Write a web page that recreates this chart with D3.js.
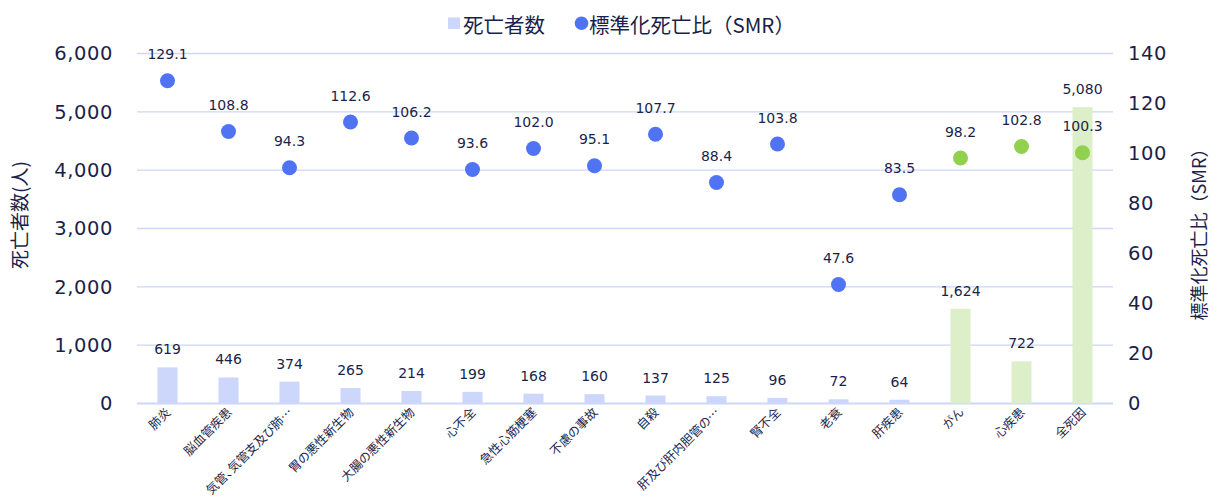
<!DOCTYPE html>
<html><head><meta charset="utf-8">
<script src="https://cdn.jsdelivr.net/npm/d3@7"></script>
<style>body{margin:0;background:#fff;font-family:"Noto Sans CJK JP","Noto Sans",sans-serif;}
.xl{font-feature-settings:"palt";}</style>
</head><body><svg id="c" width="1213" height="499"></svg>
<script>
const categories = ["肺炎","脳血管疾患","気管、気管支及び肺…","胃の悪性新生物","大腸の悪性新生物","心不全","急性心筋梗塞","不慮の事故","自殺","肝及び肝内胆管の…","腎不全","老衰","肝疾患","がん","心疾患","全死因"];
const deaths = [619,446,374,265,214,199,168,160,137,125,96,72,64,1624,722,5080];
const smr = [129.1,108.8,94.3,112.6,106.2,93.6,102.0,95.1,107.7,88.4,103.8,47.6,83.5,98.2,102.8,100.3];
const groupFlag = [0,0,0,0,0,0,0,0,0,0,0,0,0,1,1,1];
const leftTicks = [0,1000,2000,3000,4000,5000,6000];
const rightTicks = [0,20,40,60,80,100,120,140];

const svg = d3.select("#c");
const ml=137, mr=1113, plotTop=53.5, bot=403.5;
const textC="#1b1f4b", grid="#cdd7f7";
const numFont="DejaVu Sans";
const barC=["#cdd6fb","#ddefc8"], dotC=["#5073f4","#92d050"];
const x=d3.scaleBand().domain(categories).range([ml,mr]);
const yL=d3.scaleLinear().domain([0,6000]).range([bot,plotTop]);
const yR=d3.scaleLinear().domain([0,140]).range([bot,plotTop]);

svg.append("g").selectAll("line").data(leftTicks).join("line")
 .attr("x1",ml).attr("x2",mr).attr("y1",d=>yL(d)).attr("y2",d=>yL(d))
 .attr("stroke",grid).attr("stroke-width",d=>d===0?2.2:1.3);

const gl=svg.append("g").attr("transform",`translate(${ml},0)`).call(d3.axisLeft(yL).tickValues(leftTicks).tickFormat(d3.format(",")).tickSize(0).tickPadding(24));
gl.select(".domain").remove();
gl.selectAll("text").attr("font-size",19.5).attr("letter-spacing",0.6).attr("fill",textC).attr("font-family",numFont);
const gr=svg.append("g").attr("transform",`translate(${mr},0)`).call(d3.axisRight(yR).tickValues(rightTicks).tickSize(0).tickPadding(15));
gr.select(".domain").remove();
gr.selectAll("text").attr("font-size",19.5).attr("letter-spacing",0.6).attr("fill",textC).attr("font-family",numFont);

const bw=20;
svg.append("g").selectAll("rect").data(categories).join("rect")
 .attr("x",(d)=>x(d)+x.bandwidth()/2-bw/2).attr("width",bw)
 .attr("y",(d,i)=>yL(deaths[i])).attr("height",(d,i)=>bot-yL(deaths[i]))
 .attr("fill",(d,i)=>barC[groupFlag[i]]);
svg.append("g").selectAll("text").data(categories).join("text")
 .attr("x",d=>x(d)+x.bandwidth()/2).attr("y",(d,i)=>yL(deaths[i])-13)
 .attr("text-anchor","middle").attr("font-size",14).attr("fill",textC).attr("font-family",numFont)
 .text((d,i)=>d3.format(",")(deaths[i]));

svg.append("g").selectAll("circle").data(categories).join("circle")
 .attr("cx",d=>x(d)+x.bandwidth()/2).attr("cy",(d,i)=>yR(smr[i])).attr("r",7.5)
 .attr("fill",(d,i)=>dotC[groupFlag[i]]);
svg.append("g").selectAll("text").data(categories).join("text")
 .attr("x",d=>x(d)+x.bandwidth()/2).attr("y",(d,i)=>yR(smr[i])-21.5)
 .attr("text-anchor","middle").attr("font-size",14).attr("fill",textC).attr("font-family",numFont)
 .text((d,i)=>smr[i].toFixed(1));

svg.append("g").selectAll("text").data(categories).join("text")
 .attr("class","xl")
 .attr("transform",d=>`translate(${x(d)+x.bandwidth()/2+4},${413}) rotate(-45)`)
 .attr("text-anchor","end").attr("font-size",12.3).attr("fill",textC)
 .text(d=>d);

svg.append("text").attr("transform","translate(27,215) rotate(-90)").attr("text-anchor","middle")
 .attr("font-size",19).attr("fill",textC).text("死亡者数(人)");
svg.append("text").attr("transform","translate(1206,230) rotate(-90)").attr("text-anchor","middle")
 .attr("font-size",18).attr("fill",textC).text("標準化死亡比（SMR）");

const lg=svg.append("g");
lg.append("rect").attr("x",448).attr("y",17.5).attr("width",12).attr("height",11.5).attr("fill",barC[0]);
lg.append("text").attr("x",463).attr("y",33).attr("font-size",20.5).attr("fill",textC).text("死亡者数");
lg.append("circle").attr("cx",581.5).attr("cy",23.3).attr("r",6.8).attr("fill",dotC[0]);
lg.append("text").attr("x",589).attr("y",33).attr("font-size",20.5).attr("fill",textC).text("標準化死亡比（SMR）");
</script></body></html>
